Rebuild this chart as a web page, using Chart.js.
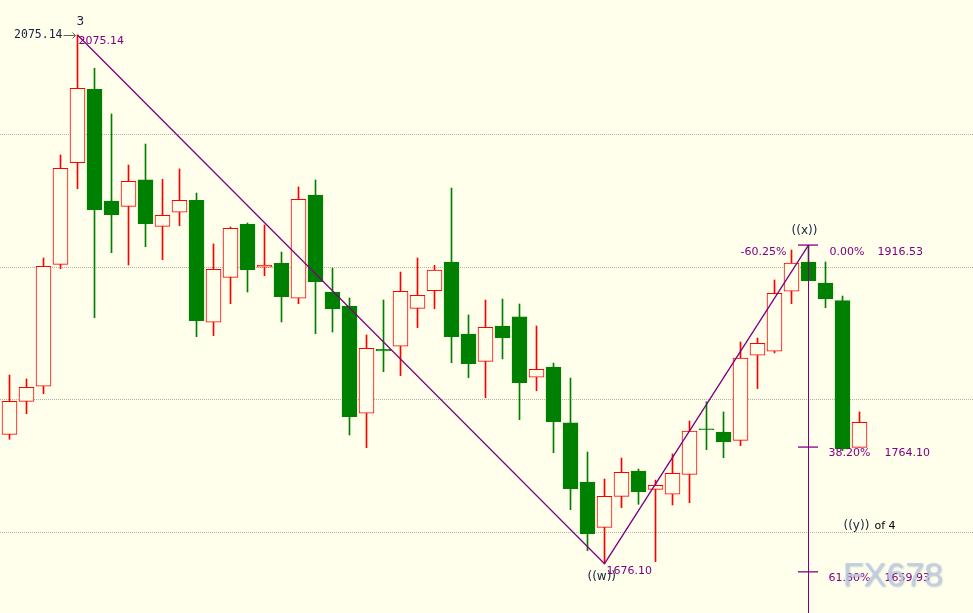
<!DOCTYPE html>
<html>
<head>
<meta charset="utf-8">
<script src="https://cdn.jsdelivr.net/npm/chart.js@4.4.1/dist/chart.umd.min.js"></script>
<style>
  html, body { margin: 0; padding: 0; background: #ffffec; }
  #wrap { width: 973px; height: 613px; }
</style>
</head>
<body>
<div id="wrap"><canvas id="chart" width="973" height="613"></canvas></div>
<script>
// daily candles
const opens  = [1773.7, 1798.6, 1810.0, 1902.0, 1978.7, 2034.1, 1949.8, 1945.8, 1965.7, 1930.7,
                1941.3, 1950.3, 1858.3, 1892.2, 1932.2, 1899.8, 1902.8, 1876.4, 1954.3, 1881.1,
                1870.6, 1789.6, 1837.9, 1840.2, 1868.8, 1882.1, 1903.8, 1849.4, 1828.8, 1855.5,
                1862.3, 1816.8, 1824.5, 1782.3, 1737.7, 1703.5, 1726.9, 1746.0, 1732.2, 1728.5,
                1743.5, 1777.7, 1775.5, 1769.2, 1833.4, 1836.4, 1881.7, 1903.8, 1887.9, 1874.6,
                1763.9];
const highs  = [1818.5, 1815.5, 1906.8, 1984.5, 2075.14, 2050.0, 2015.5, 1977.0, 1992.8, 1966.2,
                1974.0, 1955.8, 1917.4, 1930.2, 1933.2, 1931.7, 1911.3, 1960.4, 1965.7, 1899.2,
                1876.6, 1848.7, 1875.1, 1896.2, 1906.8, 1901.3, 1959.6, 1863.8, 1875.1, 1875.8,
                1872.1, 1855.5, 1827.5, 1816.2, 1760.4, 1740.0, 1755.8, 1747.5, 1739.2, 1758.9,
                1783.8, 1798.3, 1790.6, 1843.4, 1846.4, 1890.2, 1912.8, 1916.53, 1903.8, 1878.1,
                1790.6];
const lows   = [1770.0, 1789.3, 1804.4, 1898.7, 1959.1, 1861.7, 1910.8, 1901.5, 1915.3, 1905.5,
                1931.2, 1847.4, 1848.2, 1872.3, 1881.1, 1893.4, 1858.5, 1872.3, 1849.7, 1850.9,
                1773.2, 1763.6, 1821.0, 1818.0, 1854.2, 1868.5, 1827.8, 1816.5, 1801.4, 1830.6,
                1784.8, 1806.6, 1759.9, 1716.8, 1685.9, 1676.10, 1718.3, 1720.9, 1677.6, 1720.4,
                1722.1, 1762.1, 1756.1, 1765.1, 1808.2, 1835.1, 1872.3, 1889.5, 1869.3, 1761.4,
                1763.9];
const closes = [1798.6, 1809.2, 1900.5, 1974.5, 2034.9, 1943.2, 1939.5, 1964.7, 1932.7, 1939.0,
                1950.3, 1859.5, 1898.3, 1929.2, 1898.0, 1901.5, 1877.6, 1951.1, 1888.9, 1868.5,
                1787.0, 1838.6, 1836.6, 1881.7, 1878.6, 1897.7, 1847.4, 1827.0, 1854.5, 1846.6,
                1812.7, 1822.8, 1783.2, 1732.7, 1698.7, 1726.9, 1745.1, 1730.4, 1735.2, 1744.3,
                1776.2, 1777.2, 1768.2, 1831.3, 1842.4, 1880.2, 1903.0, 1889.7, 1876.1, 1762.9,
                1782.8];

// wave points: 3 -> ((w)) -> ((x))
const swingIdx  = [4, 35, 47];
const swingVals = [2075.14, 1676.10, 1916.53];

// fib levels on the ((x)) line
const fibLevels = [1916.53, 1764.10, 1669.93];
const fibPcts   = ['0.00%', '38.20%', '61.80%'];
const fibTexts  = ['1916.53', '1764.10', '1659.93'];

const gridLevels = [2000, 1900, 1800, 1700];

const BG = '#ffffec', RED = '#ff0000', GREEN = '#008000', PURPLE = '#800080', NAVY = '#14233f';
const yMin = 1638.87, yMax = 2101.51;

const bars = opens.map((_, i) => i);
const up = i => closes[i] >= opens[i];

const labelsPlugin = {
  id: 'labels',
  beforeDraw(chart) {
    const ctx = chart.ctx;
    ctx.save();
    ctx.fillStyle = BG;
    ctx.fillRect(0, 0, chart.width, chart.height);
    ctx.restore();
  },
  afterDatasetsDraw(chart) {
    const { ctx, scales: { x, y }, chartArea } = chart;
    const txt = (s, px, py, color, font, align) => {
      ctx.font = font;
      ctx.fillStyle = color;
      ctx.textAlign = align || 'left';
      ctx.textBaseline = 'middle';
      ctx.fillText(s, px, py);
    };
    const small = "11px 'DejaVu Sans'";
    const navy = "12px 'DejaVu Sans'";
    ctx.save();

    // wave 3 top
    const hx = x.getPixelForValue(swingIdx[0]), hy = y.getPixelForValue(swingVals[0]);
    txt('3', hx - 1, hy - 13, NAVY, navy);
    txt(swingVals[0].toFixed(2), hx - 15, hy, NAVY, "11.5px 'DejaVu Sans Mono'", 'right');
    ctx.strokeStyle = '#606060';
    ctx.lineWidth = 1;
    ctx.beginPath();
    ctx.moveTo(hx - 14, Math.round(hy) + 0.5);
    ctx.lineTo(hx - 2, Math.round(hy) + 0.5);
    ctx.moveTo(hx - 5, Math.round(hy) - 2.5);
    ctx.lineTo(hx - 2, Math.round(hy) + 0.5);
    ctx.lineTo(hx - 5, Math.round(hy) + 3.5);
    ctx.stroke();
    txt(swingVals[0].toFixed(2), hx + 1, hy + 6, PURPLE, small);

    // ((w)) low
    const lx = x.getPixelForValue(swingIdx[1]), ly = y.getPixelForValue(swingVals[1]);
    txt('((w))', lx - 17, ly + 13, NAVY, navy);
    txt(swingVals[1].toFixed(2), lx + 2, ly + 7, PURPLE, small);

    // ((x)) and fib labels
    const fx = x.getPixelForValue(swingIdx[2]);
    const fy0 = y.getPixelForValue(fibLevels[0]);
    txt('((x))', fx - 4, fy0 - 14, NAVY, navy, 'center');
    txt('-60.25%', fx - 22, fy0 + 7, PURPLE, small, 'right');
    fibLevels.forEach((v, k) => {
      const py = y.getPixelForValue(v) + (k === 0 ? 7 : 6);
      txt(fibPcts[k], fx + (k === 0 ? 21 : 20), py, PURPLE, small);
      txt(fibTexts[k], fx + (k === 0 ? 69 : 76), py, PURPLE, small);
    });
    txt('((y))', fx + 35, y.getPixelForValue(fibLevels[2]) - 46, NAVY, navy);
    txt('of 4', fx + 66, y.getPixelForValue(fibLevels[2]) - 46, '#000000', "11px 'DejaVu Sans'");

    // watermark
    ctx.shadowColor = 'rgba(110,130,160,0.55)';
    ctx.shadowBlur = 2;
    ctx.shadowOffsetX = 1;
    ctx.shadowOffsetY = 1;
    txt('FX678', chartArea.right - 30, chartArea.bottom - 36, 'rgba(190,205,228,0.85)', "34px 'Liberation Sans'", 'right');
    ctx.restore();
  }
};

const fibTicks = fibLevels.map(v => ({
  type: 'line',
  data: [{ x: swingIdx[2] - 0.62, y: v }, { x: swingIdx[2] + 0.56, y: v }],
  borderColor: PURPLE, borderWidth: 1.3, pointRadius: 0, order: 0
}));

new Chart(document.getElementById('chart'), {
  type: 'bar',
  data: {
    datasets: [
      {
        type: 'line',
        data: swingIdx.map((i, k) => ({ x: i, y: swingVals[k] })),
        borderColor: PURPLE, borderWidth: 1.3, pointRadius: 0, tension: 0, order: 0
      },
      {
        type: 'line',
        data: [{ x: swingIdx[2], y: fibLevels[0] }, { x: swingIdx[2], y: yMin }],
        borderColor: PURPLE, borderWidth: 1, pointRadius: 0, order: 0
      },
      ...fibTicks,
      {
        data: bars.map(i => ({ x: i, y: [opens[i], closes[i]] })),
        backgroundColor: bars.map(i => up(i) ? BG : GREEN),
        borderColor: bars.map(i => up(i) ? RED : GREEN),
        borderWidth: 1,
        borderSkipped: false,
        barThickness: 15,
        minBarLength: 1,
        grouped: false,
        order: 1
      },
      {
        data: bars.map(i => ({ x: i, y: [lows[i], highs[i]] })),
        backgroundColor: bars.map(i => up(i) ? RED : GREEN),
        borderWidth: 0,
        barThickness: 1,
        grouped: false,
        order: 2
      }
    ]
  },
  options: {
    responsive: false,
    animation: false,
    events: [],
    layout: { padding: 0 },
    plugins: { legend: { display: false }, tooltip: { enabled: false } },
    scales: {
      x: {
        type: 'linear',
        offset: false,
        min: -9.5 / 17,
        max: (973 - 9.5) / 17,
        display: false
      },
      y: {
        min: yMin,
        max: yMax,
        afterBuildTicks: scale => { scale.ticks = gridLevels.map(v => ({ value: v })); },
        ticks: { display: false },
        grid: { color: '#b4b4aa', lineWidth: 1, drawTicks: false },
        border: { display: false, dash: [1, 1] }
      }
    }
  },
  plugins: [labelsPlugin]
});
</script>
</body>
</html>
